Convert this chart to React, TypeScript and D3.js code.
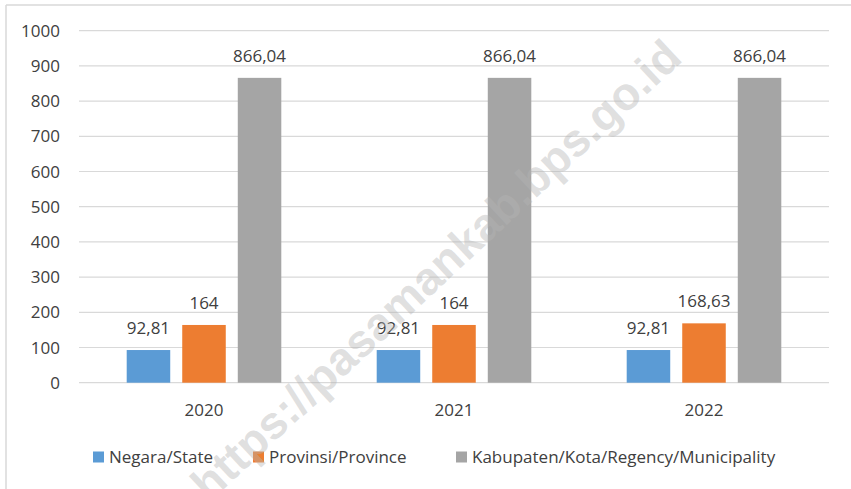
import React from "react";
import * as d3 from "d3";

const categories = ["2020", "2021", "2022"];
const seriesNames = ["Negara/State", "Provinsi/Province", "Kabupaten/Kota/Regency/Municipality"];
const negara = [92.81, 92.81, 92.81];
const provinsi = [164, 164, 168.63];
const kabupaten = [866.04, 866.04, 866.04];
const valueLabels = [
  ["92,81", "92,81", "92,81"],
  ["164", "164", "168,63"],
  ["866,04", "866,04", "866,04"],
];
const yTicks = [0, 100, 200, 300, 400, 500, 600, 700, 800, 900, 1000];
const colors = ["#5B9BD5", "#ED7D31", "#A5A5A5"];
const watermark = "https://pasamankab.bps.go.id";

const W = 851;
const H = 489;
const FONT = "'Open Sans', sans-serif";
const TEXT = "#404040";

export default function App() {
  const series = [negara, provinsi, kabupaten];
  const x0 = d3.scaleBand<string>().domain(categories).range([79, 829]).paddingInner(0).paddingOuter(0);
  const groupW = 154.6;
  const x1 = d3
    .scaleBand<number>()
    .domain([0, 1, 2])
    .range([-groupW / 2, groupW / 2])
    .paddingInner(12 / 55.5)
    .paddingOuter(0);
  const y = d3.scaleLinear().domain([0, 1000]).range([382.7, 30.7]);
  const legendX = [93, 253, 456];

  return (
    <svg width={W} height={H} style={{ position: "absolute", left: 0, top: 0, background: "#fff" }} fontFamily={FONT}>
      <rect x={0} y={0} width={W} height={H} fill="#fff" />
      <line x1={6} x2={6} y1={5} y2={H} stroke="#d9d9d9" strokeWidth={1.5} />
      <line x1={6} x2={W} y1={5} y2={5} stroke="#d9d9d9" strokeWidth={1.5} />
      {yTicks.map((t) => (
        <g key={t}>
          <line x1={79} x2={829} y1={y(t)} y2={y(t)} stroke="#d9d9d9" strokeWidth={1.2} />
          <text x={60} y={y(t)} dy="0.36em" textAnchor="end" fontSize={17} fill={TEXT}>
            {t}
          </text>
        </g>
      ))}
      {categories.map((c, ci) => {
        const cx = x0(c)! + x0.bandwidth() / 2;
        return (
          <g key={c}>
            {series.map((s, si) => {
              const bx = cx + x1(si)!;
              return (
                <g key={si}>
                  <rect x={bx} y={y(s[ci])} width={x1.bandwidth()} height={y(0) - y(s[ci])} fill={colors[si]} />
                  <text x={bx + x1.bandwidth() / 2} y={y(s[ci]) - 16} textAnchor="middle" fontSize={17} fill={TEXT}>
                    {valueLabels[si][ci]}
                  </text>
                </g>
              );
            })}
            <text x={cx} y={416} textAnchor="middle" fontSize={17} fill={TEXT}>
              {c}
            </text>
          </g>
        );
      })}
      {seriesNames.map((n, i) => (
        <g key={n}>
          <rect x={legendX[i]} y={451.5} width={11} height={11} fill={colors[i]} />
          <text x={legendX[i] + 16} y={463} fontSize={17} fill={TEXT}>
            {n}
          </text>
        </g>
      ))}
      <text
        transform="translate(684,60) rotate(-43)"
        textAnchor="end"
        fontSize={46}
        fontWeight="bold"
        fill="#b4b4b4"
        fillOpacity={0.42}
        fontFamily="'Liberation Sans', Arial, sans-serif"
      >
        {watermark}
      </text>
    </svg>
  );
}
